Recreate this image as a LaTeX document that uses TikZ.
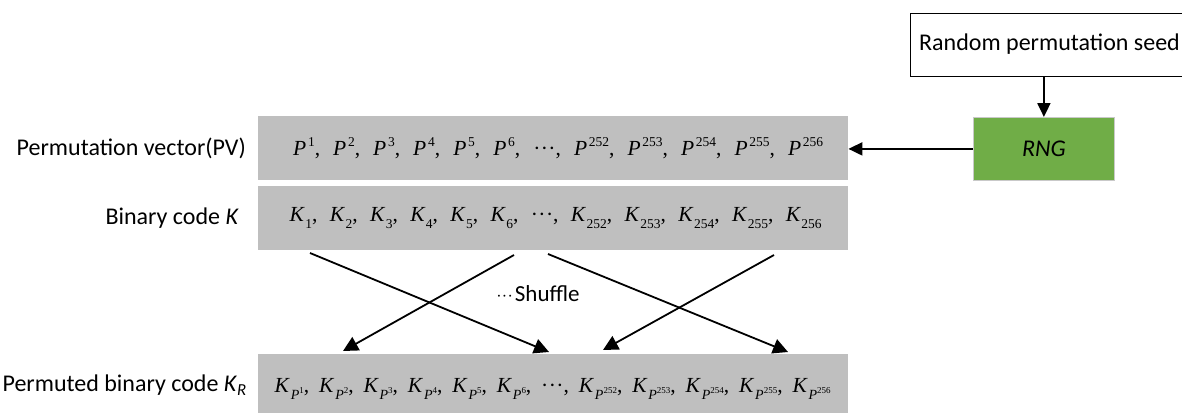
\documentclass[tikz,border=0pt]{standalone}
\usepackage{fontspec}
\setmainfont{Carlito}
\newfontfamily\tnr{Liberation Serif}
\usetikzlibrary{arrows.meta,calc}
\definecolor{rowgray}{HTML}{BFBFBF}
\definecolor{rnggreen}{HTML}{70AD47}
\definecolor{rngedge}{HTML}{C9C9C9}
% script pieces for the sequences
\newcommand\hisc[1]{\raisebox{.42em}{\fontsize{13.5}{15}\selectfont #1}}
\newcommand\losc[1]{\raisebox{-.3em}{\fontsize{13.5}{15}\selectfont #1}}
\newcommand\tinyhisc[1]{\raisebox{.42em}{\fontsize{9}{10}\selectfont #1}}
\newcommand\Pe[1]{\textit{P}\kern.08em\hisc{#1}}
\newcommand\Ks[1]{\textit{K}\kern.02em\losc{#1}}
\newcommand\Kp[1]{\textit{K}\kern.04em\raisebox{-.33em}{\fontsize{14}{15}\selectfont\textit{P}\tinyhisc{#1}}}
\newcommand\sq{,\hspace{0pt plus 1fil}}
\newcommand\cdd{\textperiodcentered\kern.02em\textperiodcentered\kern.02em\textperiodcentered}
\newcommand\rowtext[3]{\hspace*{#1}\makebox[#2][s]{\fontsize{21.5}{25}\selectfont\tnr #3}}
\begin{document}
\begin{tikzpicture}[x=1pt,y=-1pt,
  rowbox/.style={fill=rowgray, draw=none, minimum width=590pt, minimum height=64pt,
    inner sep=0pt, anchor=north west},
  lbl/.style={font=\fontsize{24}{28}\selectfont, anchor=east, inner sep=0pt},
  arr/.style={line width=2pt, -{Triangle[length=14pt,width=13pt]}},
  xarr/.style={line width=1.8pt, -{Triangle[length=15pt,width=15pt]}}]
\useasboundingbox (0,0) rectangle (1182,412);

% permutation seed and generator
\node[draw=black, line width=1pt, minimum width=280pt, minimum height=63pt, anchor=north west,
  inner sep=0pt] (seed) at (910,13) {};
\node[font=\fontsize{24}{28}\selectfont, anchor=west, inner sep=0pt] (seedtxt) at (919,44.5)
  {Random permutation seed};
\node[fill=rnggreen, draw=rngedge, line width=0.8pt, minimum width=141pt, minimum height=63pt,
  anchor=north west, inner sep=0pt, font=\fontsize{24}{28}\selectfont\itshape] (rng) at (973,117) {RNG};

% rows
\node[rowbox] (pv) at (258,116) {\rowtext{10pt}{530pt}{%
  \Pe{1}\sq\Pe{2}\sq\Pe{3}\sq\Pe{4}\sq\Pe{5}\sq\Pe{6}\sq\cdd\sq\Pe{252}\sq\Pe{253}\sq\Pe{254}\sq\Pe{255}\sq\Pe{256}}};
\node[rowbox] (kb) at (258,186) {\rowtext{5pt}{532pt}{%
  \Ks{1}\sq\Ks{2}\sq\Ks{3}\sq\Ks{4}\sq\Ks{5}\sq\Ks{6}\sq\cdd\sq\Ks{252}\sq\Ks{253}\sq\Ks{254}\sq\Ks{255}\sq\Ks{256}}};
\node[rowbox, minimum height=70pt] (kr) at (258,354) {\raisebox{6pt}{\rowtext{-1pt}{556pt}{%
  \Kp{1}\sq\Kp{2}\sq\Kp{3}\sq\Kp{4}\sq\Kp{5}\sq\Kp{6}\sq\cdd\sq\Kp{252}\sq\Kp{253}\sq\Kp{254}\sq\Kp{255}\sq\Kp{256}}}};

% row labels
\node[lbl] (pvl) at (246,148) {Permutation vector(PV)};
\node[lbl] (kbl) at (239,218) {Binary code \textit{K}};
\node[lbl] (krl) at (247,385) {Permuted binary code \textit{K}\textsubscript{\textit{R}}};

% seed -> generator -> permutation vector
\draw[arr] (seed.south -| rng.north) -- (rng.north);
\draw[arr] (rng.west) -- (pv.east |- rng.west);

% shuffle connectors
\coordinate (s1) at (310,253);
\coordinate (s2) at (514,255);
\coordinate (s3) at (548,254);
\coordinate (s4) at (774,255);
\coordinate (t1) at (549,352);
\coordinate (t2) at (343,351);
\coordinate (t3) at (788,352);
\coordinate (t4) at (603,350);
\draw[xarr] (s1) -- (t1);
\draw[xarr] (s2) -- (t2);
\draw[xarr] (s3) -- (t3);
\draw[xarr] (s4) -- (t4);
\node[font=\fontsize{23}{27}\selectfont, inner sep=0pt] (shuf) at (538,294)
  {{\tnr\fontsize{16}{20}\selectfont\cdd}\kern2pt Shuffle};
\end{tikzpicture}
\end{document}
